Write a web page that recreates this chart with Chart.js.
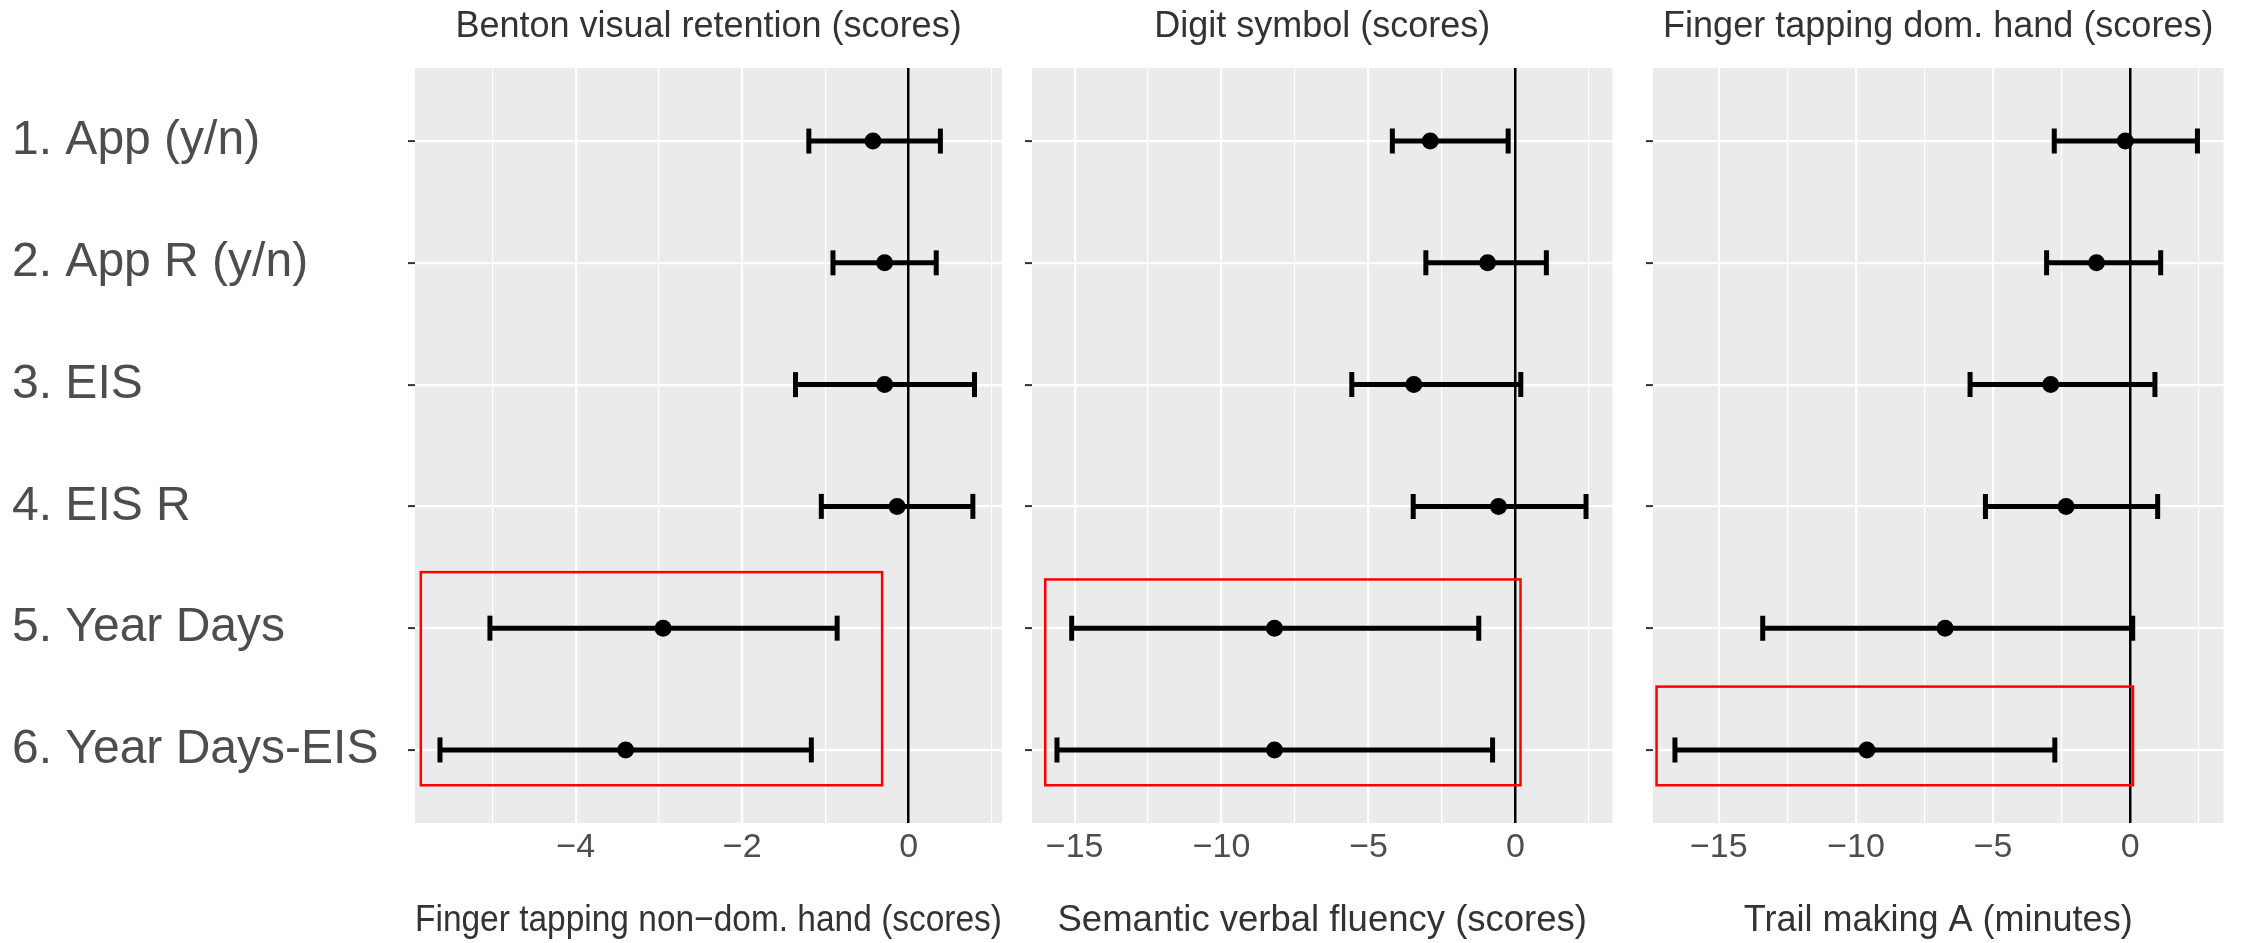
<!DOCTYPE html>
<html>
<head>
<meta charset="utf-8">
<script src="https://cdn.jsdelivr.net/npm/chart.js@4.4.0/dist/chart.umd.min.js"></script>
<style>
  html, body { margin: 0; padding: 0; background: #fff; overflow: hidden; }
  body { width: 2241px; height: 943px; position: relative; }
  canvas { position: absolute; top: 0; }
</style>
</head>
<body>
<canvas id="p1" width="1045" height="943" style="left:0px"></canvas>
<canvas id="p2" width="620" height="943" style="left:1010px"></canvas>
<canvas id="p3" width="611" height="943" style="left:1630px"></canvas>
<script>
// row labels (top to bottom)
const rows = ['1. App (y/n)', '2. App R (y/n)', '3. EIS', '4. EIS R', '5. Year Days', '6. Year Days-EIS'];

// Benton visual retention / Finger tapping non-dom. hand
const p1Est = [-0.43, -0.29, -0.29, -0.14, -2.95, -3.40];
const p1Lo  = [-1.20, -0.91, -1.36, -1.05, -5.03, -5.63];
const p1Hi  = [0.38, 0.33, 0.79, 0.77, -0.86, -1.17];
const p1Grid = [-5, -4, -3, -2, -1, 0, 1];
const p1Labels = [-4, -2, 0];

// Digit symbol / Semantic verbal fluency
const p2Est = [-2.90, -0.95, -3.46, -0.58, -8.20, -8.20];
const p2Lo  = [-4.19, -3.05, -5.57, -3.48, -15.10, -15.60];
const p2Hi  = [-0.25, 1.05, 0.18, 2.40, -1.25, -0.78];
const p2Grid = [-15, -12.5, -10, -7.5, -5, -2.5, 0, 2.5];
const p2Labels = [-15, -10, -5, 0];

// Finger tapping dom. hand / Trail making A
const p3Est = [-0.18, -1.23, -2.90, -2.34, -6.75, -9.60];
const p3Lo  = [-2.77, -3.05, -5.84, -5.28, -13.40, -16.60];
const p3Hi  = [2.45, 1.11, 0.90, 1.00, 0.09, -2.75];
const p3Grid = [-15, -12.5, -10, -7.5, -5, -2.5, 0, 2.5];
const p3Labels = [-15, -10, -5, 0];

// highlighted (red) boxes, in data units: [xFrom, xTo], [rowFrom, rowTo]
const box1X = [-5.86, -0.32], box1Y = [4.54, 6.29];
const box2X = [-16.0, 0.17], box2Y = [4.60, 6.29];
const box3X = [-17.27, 0.10], box3Y = [5.48, 6.29];

Chart.defaults.font.family = "'Liberation Sans', Arial, sans-serif";

const panelBg = {
  id: 'panelBg',
  beforeDraw(chart) {
    const a = chart.chartArea;
    const ctx = chart.ctx;
    ctx.save();
    ctx.fillStyle = '#EBEBEB';
    ctx.fillRect(a.left, a.top, a.right - a.left, a.bottom - a.top);
    ctx.restore();
  }
};

const redBox = {
  id: 'redBox',
  afterDatasetsDraw(chart, args, opts) {
    const x = chart.scales.x, y = chart.scales.y;
    const ctx = chart.ctx;
    const x0 = x.getPixelForValue(opts.bx[0]), x1 = x.getPixelForValue(opts.bx[1]);
    const y0 = y.getPixelForValue(opts.by[0]), y1 = y.getPixelForValue(opts.by[1]);
    ctx.save();
    ctx.strokeStyle = '#FF0000';
    ctx.lineWidth = 2.5;
    ctx.strokeRect(x0, y0, x1 - x0, y1 - y0);
    ctx.restore();
  }
};

const fmt = v => v < 0 ? '\u2212' + Math.abs(v) : String(v);

function makePanel(id, cfg) {
  const datasets = [{
    data: cfg.est.map((v, i) => ({x: v, y: i + 1})),
    pointRadius: 8.5,
    pointHoverRadius: 8.5,
    backgroundColor: '#000',
    borderColor: '#000',
    borderWidth: 0
  }];
  cfg.est.forEach((v, i) => {
    datasets.push({
      data: [{x: cfg.lo[i], y: i + 1}, {x: cfg.hi[i], y: i + 1}],
      showLine: true,
      borderColor: '#000',
      borderWidth: 5,
      pointStyle: 'line',
      pointRotation: 90,
      pointRadius: 12.5,
      pointHoverRadius: 12.5,
      pointBorderWidth: 5,
      pointBorderColor: '#000'
    });
  });

  new Chart(document.getElementById(id), {
    type: 'scatter',
    data: { datasets },
    options: {
      responsive: false,
      animation: false,
      layout: { padding: { left: cfg.padLeft, right: cfg.padRight, top: 0, bottom: 0 } },
      plugins: {
        legend: { display: false },
        tooltip: { enabled: false },
        title: {
          display: true,
          text: cfg.title,
          fullSize: false,
          color: '#333333',
          font: { size: 36, weight: 'normal', lineHeight: 1.2 },
          padding: { top: 5, bottom: 19.8 }
        },
        redBox: { bx: cfg.bx, by: cfg.by }
      },
      scales: {
        x: {
          type: 'linear',
          min: cfg.min,
          max: cfg.max,
          afterBuildTicks: axis => { axis.ticks = cfg.grid.map(v => ({value: v})); },
          afterFit: axis => { axis.height = 120; },
          ticks: {
            autoSkip: false,
            maxRotation: 0,
            padding: 4,
            color: '#4D4D4D',
            font: { size: 34 },
            callback: v => cfg.labels.includes(v) ? fmt(v) : ''
          },
          grid: {
            z: -1,
            drawTicks: false,
            color: c => c.tick && c.tick.value === 0 ? '#000000' : '#FFFFFF',
            lineWidth: c => {
              if (!c.tick) return 1;
              if (c.tick.value === 0) return 2.5;
              return cfg.labels.includes(c.tick.value) ? 2.2 : 1.2;
            }
          },
          border: { display: false },
          title: {
            display: true,
            text: cfg.xTitle,
            color: '#333333',
            font: { size: cfg.xTitleSize, lineHeight: 1.2 },
            padding: { top: 0, bottom: 0 }
          }
        },
        y: {
          type: 'linear',
          reverse: true,
          min: 0.4,
          max: 6.6,
          afterBuildTicks: axis => { axis.ticks = rows.map((r, i) => ({value: i + 1})); },
          afterFit: axis => { axis.width = cfg.yWidth; },
          ticks: {
            display: cfg.showRows,
            crossAlign: 'far',
            color: '#4D4D4D',
            font: { size: 48 },
            callback: v => rows[v - 1]
          },
          grid: {
            z: -2,
            color: '#FFFFFF',
            lineWidth: 2.2,
            drawTicks: true,
            tickLength: 7,
            tickWidth: 2,
            tickColor: '#333333'
          },
          border: { display: false }
        }
      }
    },
    plugins: [panelBg, redBox]
  });
}

makePanel('p1', {
  est: p1Est, lo: p1Lo, hi: p1Hi, grid: p1Grid, labels: p1Labels,
  min: -5.93, max: 1.12, bx: box1X, by: box1Y,
  title: 'Benton visual retention (scores)',
  xTitle: 'Finger tapping non\u2212dom. hand (scores)', xTitleSize: 37,
  padLeft: 12, padRight: 43, yWidth: 403, showRows: true
});

makePanel('p2', {
  est: p2Est, lo: p2Lo, hi: p2Hi, grid: p2Grid, labels: p2Labels,
  min: -16.45, max: 3.3, bx: box2X, by: box2Y,
  title: 'Digit symbol (scores)',
  xTitle: 'Semantic verbal fluency (scores)', xTitleSize: 36.5,
  padLeft: 0, padRight: 12, yWidth: 22, showRows: false
});

makePanel('p3', {
  est: p3Est, lo: p3Lo, hi: p3Hi, grid: p3Grid, labels: p3Labels,
  min: -17.4, max: 3.4, bx: box3X, by: box3Y,
  title: 'Finger tapping dom. hand (scores)',
  xTitle: 'Trail making A (minutes)', xTitleSize: 36,
  padLeft: 0, padRight: 0, yWidth: 23, showRows: false
});
</script>
</body>
</html>
